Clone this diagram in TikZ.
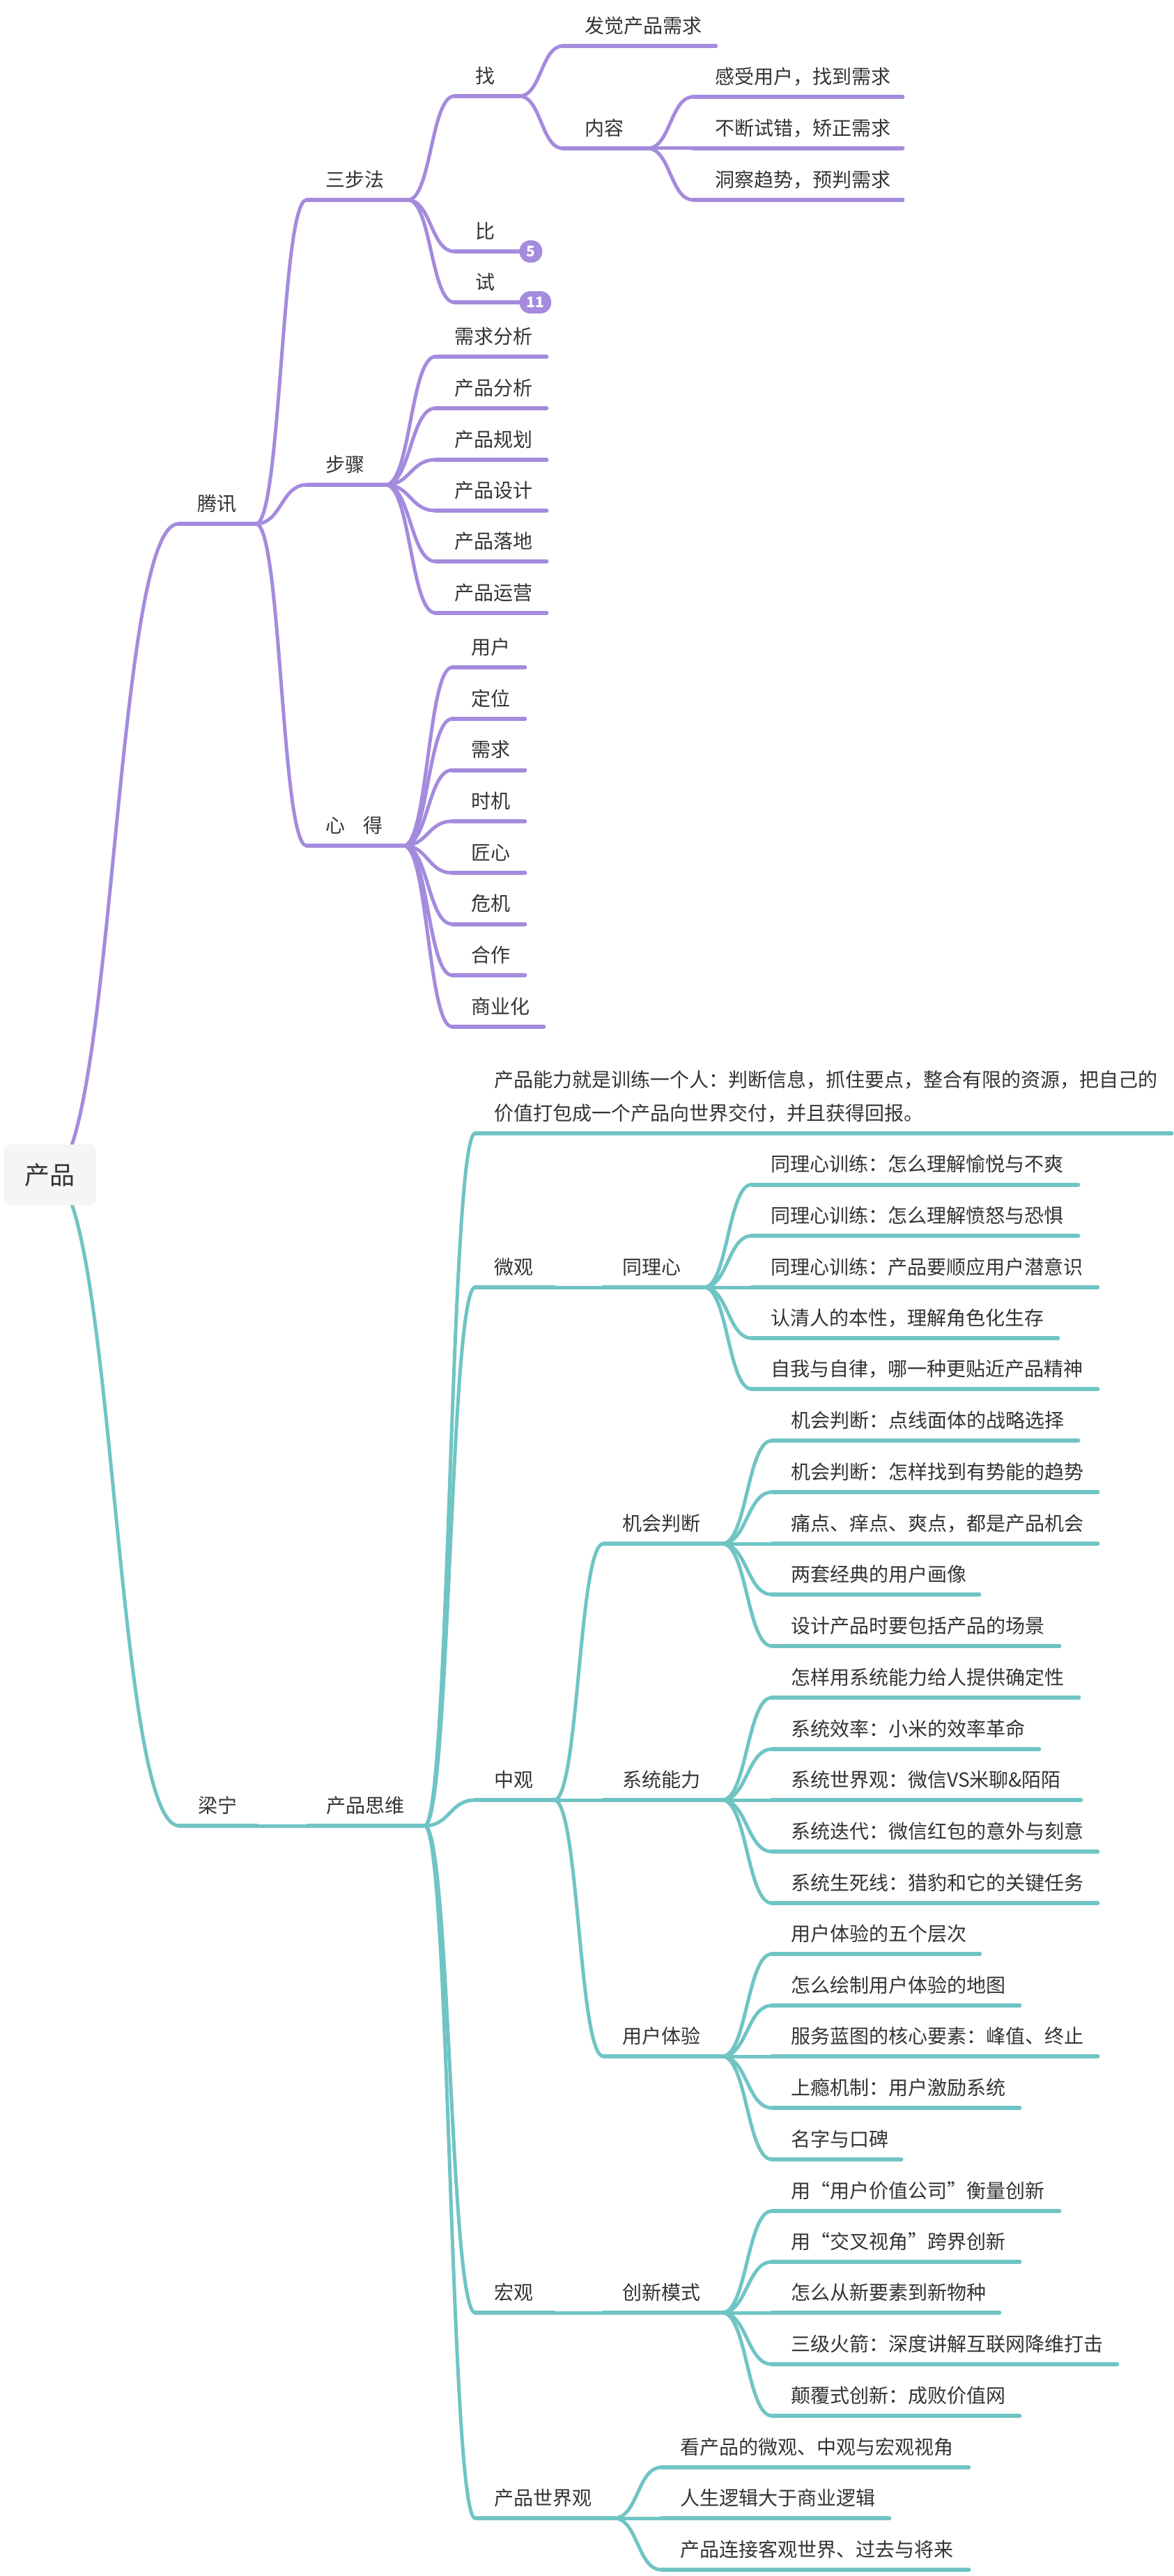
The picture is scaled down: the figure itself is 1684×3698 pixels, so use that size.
\documentclass[tikz,border=0pt]{standalone}
\usepackage{fontspec}
\setmainfont{Noto Sans CJK SC}
\usetikzlibrary{calc}
\usetikzlibrary{backgrounds}
\definecolor{tencent}{HTML}{A48BDD}
\definecolor{liangning}{HTML}{70C4C4}
\definecolor{rootfill}{HTML}{F5F5F5}
\definecolor{inktext}{HTML}{333333}
\tikzset{
  topic/.style={anchor=south west,inner xsep=0pt,inner ysep=18.6pt,text depth=0pt,align=left,text=inktext,
    font=\fontsize{28}{48}\selectfont},
  stem/.style={line width=6pt,line cap=round},
  link/.style={line width=5pt,line cap=round,to path={
    let \p1=(\tikztostart),\p2=(\tikztotarget) in
    .. controls ({\x1+0.5*(\x2-\x1)},\y1) and ({\x1+0.5*(\x2-\x1)},\y2) .. (\tikztotarget)}},
  badge/.style={anchor=west,fill=tencent,text=white,rounded corners=15.5pt,minimum height=32pt,
    minimum width=30pt,inner xsep=10pt,inner ysep=0pt,font=\fontsize{21}{21}\selectfont\bfseries},
}
% name, left end, right end, line height, text
\newcommand{\topic}[6][]{
  \pgfmathsetmacro{\wid}{#4-#3}
  \node[topic,text width=\wid pt,#1] (#2) at (#3,#5) {\hspace*{27pt}#6};
  \draw[stem] (#2.south west) -- (#2.south east);
}
\begin{document}
\begin{tikzpicture}[x=1pt,y=-1pt]
	\useasboundingbox (0,0) rectangle (1684,3698);
	%ROOT
	\node[fill=rootfill,text=inktext,rounded corners=8pt,minimum width=132pt,minimum height=87pt,
		font=\fontsize{36}{36}\selectfont] (root) at (71.5,1686.5) {产品};

	%TENCENT
	\begin{scope}[color=tencent]
		\topic{tengxun}{256}{367}{752}{腾讯}
		\begin{scope}[on background layer]
			\draw[link,tencent] (root.center) to (tengxun.south west);
		\end{scope}
		\topic{sanbu}{440}{585}{287}{三步法}
		\topic{buzhou}{440}{553}{696}{步骤}
		\topic{xinde}{440}{579}{1214}{心\hspace{26pt}得}
		\foreach \nd in {sanbu,buzhou,xinde}{
			\draw[link] (tengxun.south east) to (\nd.south west);
		}
		\topic{zhao}{652}{745}{138}{\hspace*{3pt}找}
		\topic{bi}{652}{745}{361}{\hspace*{3pt}比}
		\topic{shi}{652}{745}{434}{\hspace*{3pt}试}
		\foreach \nd in {zhao,bi,shi}{
			\draw[link] (sanbu.south east) to (\nd.south west);
		}
		\node[badge] (bibadge) at (bi.south east) {5};
		\node[badge] (shibadge) at (shi.south east) {11};
		\topic{faxian}{808}{1027}{66}{\hspace*{4pt}发觉产品需求}
		\topic{neirong}{808}{929}{213}{\hspace*{4pt}内容}
		\foreach \nd in {faxian,neirong}{
			\draw[link] (zhao.south east) to (\nd.south west);
		}
		\foreach \nd/\yy/\tx in {ganshou/139/感受用户，找到需求,buduan/213/不断试错，矫正需求,dongcha/287/洞察趋势，预判需求}{
			\topic{\nd}{995}{1295}{\yy}{\hspace*{4pt}\tx}
			\draw[link] (neirong.south east) to (\nd.south west);
		}
		\foreach \nd/\yy/\tx in {xuqiu/512/需求分析,fenxi/586/产品分析,guihua/660/产品规划,sheji/733/产品设计,luodi/806/产品落地,yunying/880/产品运营}{
			\topic{\nd}{625}{784}{\yy}{\tx}
			\draw[link] (buzhou.south east) to (\nd.south west);
		}
		\foreach \nd/\yy/\ee/\tx in {yonghu/958/753/用户,dingwei/1032/753/定位,xq/1105.5/753/需求,shiji/1179/753/时机,jiangxin/1253/753/匠心,weiji/1326.5/753/危机,hezuo/1400/753/合作,shangye/1474/780/商业化}{
			\topic{\nd}{649}{\ee}{\yy}{\tx}
			\draw[link] (xinde.south east) to (\nd.south west);
		}
	\end{scope}

	%LIANG NING
	\begin{scope}[color=liangning]
		\topic{liang}{257}{368}{2621}{梁宁}
		\begin{scope}[on background layer]
			\draw[link,liangning] (root.center) to (liang.south west);
		\end{scope}
		\topic{siwei}{441}{609}{2621}{产品思维}
		\draw[link] (liang.south east) to (siwei.south west);
		\topic[text depth=48pt]{nengli}{682}{1681}{1627}{产品能力就是训练一个人：判断信息，抓住要点，整合有限的资源，把自己的\\\hspace*{27pt}价值打包成一个产品向世界交付，并且获得回报。}
		\topic{weiguan}{682}{795}{1848}{微观}
		\topic{zhongguan}{682}{795}{2584}{中观}
		\topic{hongguan}{682}{795}{3320}{宏观}
		\topic{shijie}{682}{881}{3615}{产品世界观}
		\foreach \nd in {nengli,weiguan,zhongguan,hongguan,shijie}{
			\draw[link] (siwei.south east) to (\nd.south west);
		}
		%SECOND COLUMN
		\topic{tongli}{866}{1010}{1848}{同理心}
		\draw[link] (weiguan.south east) to (tongli.south west);
		\topic{jihui}{866}{1036}{2216}{机会判断}
		\topic{xitong}{866}{1036}{2584}{系统能力}
		\topic{tiyan}{866}{1036}{2952}{用户体验}
		\foreach \nd in {jihui,xitong,tiyan}{
			\draw[link] (zhongguan.south east) to (\nd.south west);
		}
		\topic{chuangxin}{866}{1036}{3320}{创新模式}
		\draw[link] (hongguan.south east) to (chuangxin.south west);
		%LEAVES
		\foreach \nd/\yy/\ee/\tx in {tla/1700.5/1547/同理心训练：怎么理解愉悦与不爽,tlb/1774/1547/同理心训练：怎么理解愤怒与恐惧,tlc/1848/1575/同理心训练：产品要顺应用户潜意识,tld/1921/1518/认清人的本性，理解角色化生存,tle/1994/1575/自我与自律，哪一种更贴近产品精神}{
			\topic{\nd}{1079}{\ee}{\yy}{\tx}
			\draw[link] (tongli.south east) to (\nd.south west);
		}
		\foreach \nd/\yy/\ee/\tx in {jha/2068/1547/机会判断：点线面体的战略选择,jhb/2142/1575/机会判断：怎样找到有势能的趋势,jhc/2216/1575/痛点、痒点、爽点，都是产品机会,jhd/2289/1405/两套经典的用户画像,jhe/2363/1520/设计产品时要包括产品的场景}{
			\topic{\nd}{1108}{\ee}{\yy}{\tx}
			\draw[link] (jihui.south east) to (\nd.south west);
		}
		\foreach \nd/\yy/\ee/\tx in {xta/2437/1548/怎样用系统能力给人提供确定性,xtb/2511/1491/系统效率：小米的效率革命,xtc/2584/1551/系统世界观：微信VS米聊\&陌陌,xtd/2658/1575/系统迭代：微信红包的意外与刻意,xte/2732/1575/系统生死线：猎豹和它的关键任务}{
			\topic{\nd}{1108}{\ee}{\yy}{\tx}
			\draw[link] (xitong.south east) to (\nd.south west);
		}
		\foreach \nd/\yy/\ee/\tx in {tya/2805/1406/用户体验的五个层次,tyb/2879/1463/怎么绘制用户体验的地图,tyc/2952/1575/服务蓝图的核心要素：峰值、终止,tyd/3026/1463/上瘾机制：用户激励系统,tye/3100/1293/名字与口碑}{
			\topic{\nd}{1108}{\ee}{\yy}{\tx}
			\draw[link] (tiyan.south east) to (\nd.south west);
		}
		\foreach \nd/\yy/\ee/\tx in {cxa/3174/1520/用“用户价值公司”衡量创新,cxb/3247/1463/用“交叉视角”跨界创新,cxc/3320/1434/怎么从新要素到新物种,cxd/3394/1603/三级火箭：深度讲解互联网降维打击,cxe/3468/1463/颠覆式创新：成败价值网}{
			\topic{\nd}{1108}{\ee}{\yy}{\tx}
			\draw[link] (chuangxin.south east) to (\nd.south west);
		}
		\foreach \nd/\yy/\ee/\tx in {sja/3542/1390/看产品的微观、中观与宏观视角,sjb/3615/1276/人生逻辑大于商业逻辑,sjc/3689/1390/产品连接客观世界、过去与将来}{
			\topic{\nd}{949}{\ee}{\yy}{\tx}
			\draw[link] (shijie.south east) to (\nd.south west);
		}
	\end{scope}
\end{tikzpicture}
\end{document}
